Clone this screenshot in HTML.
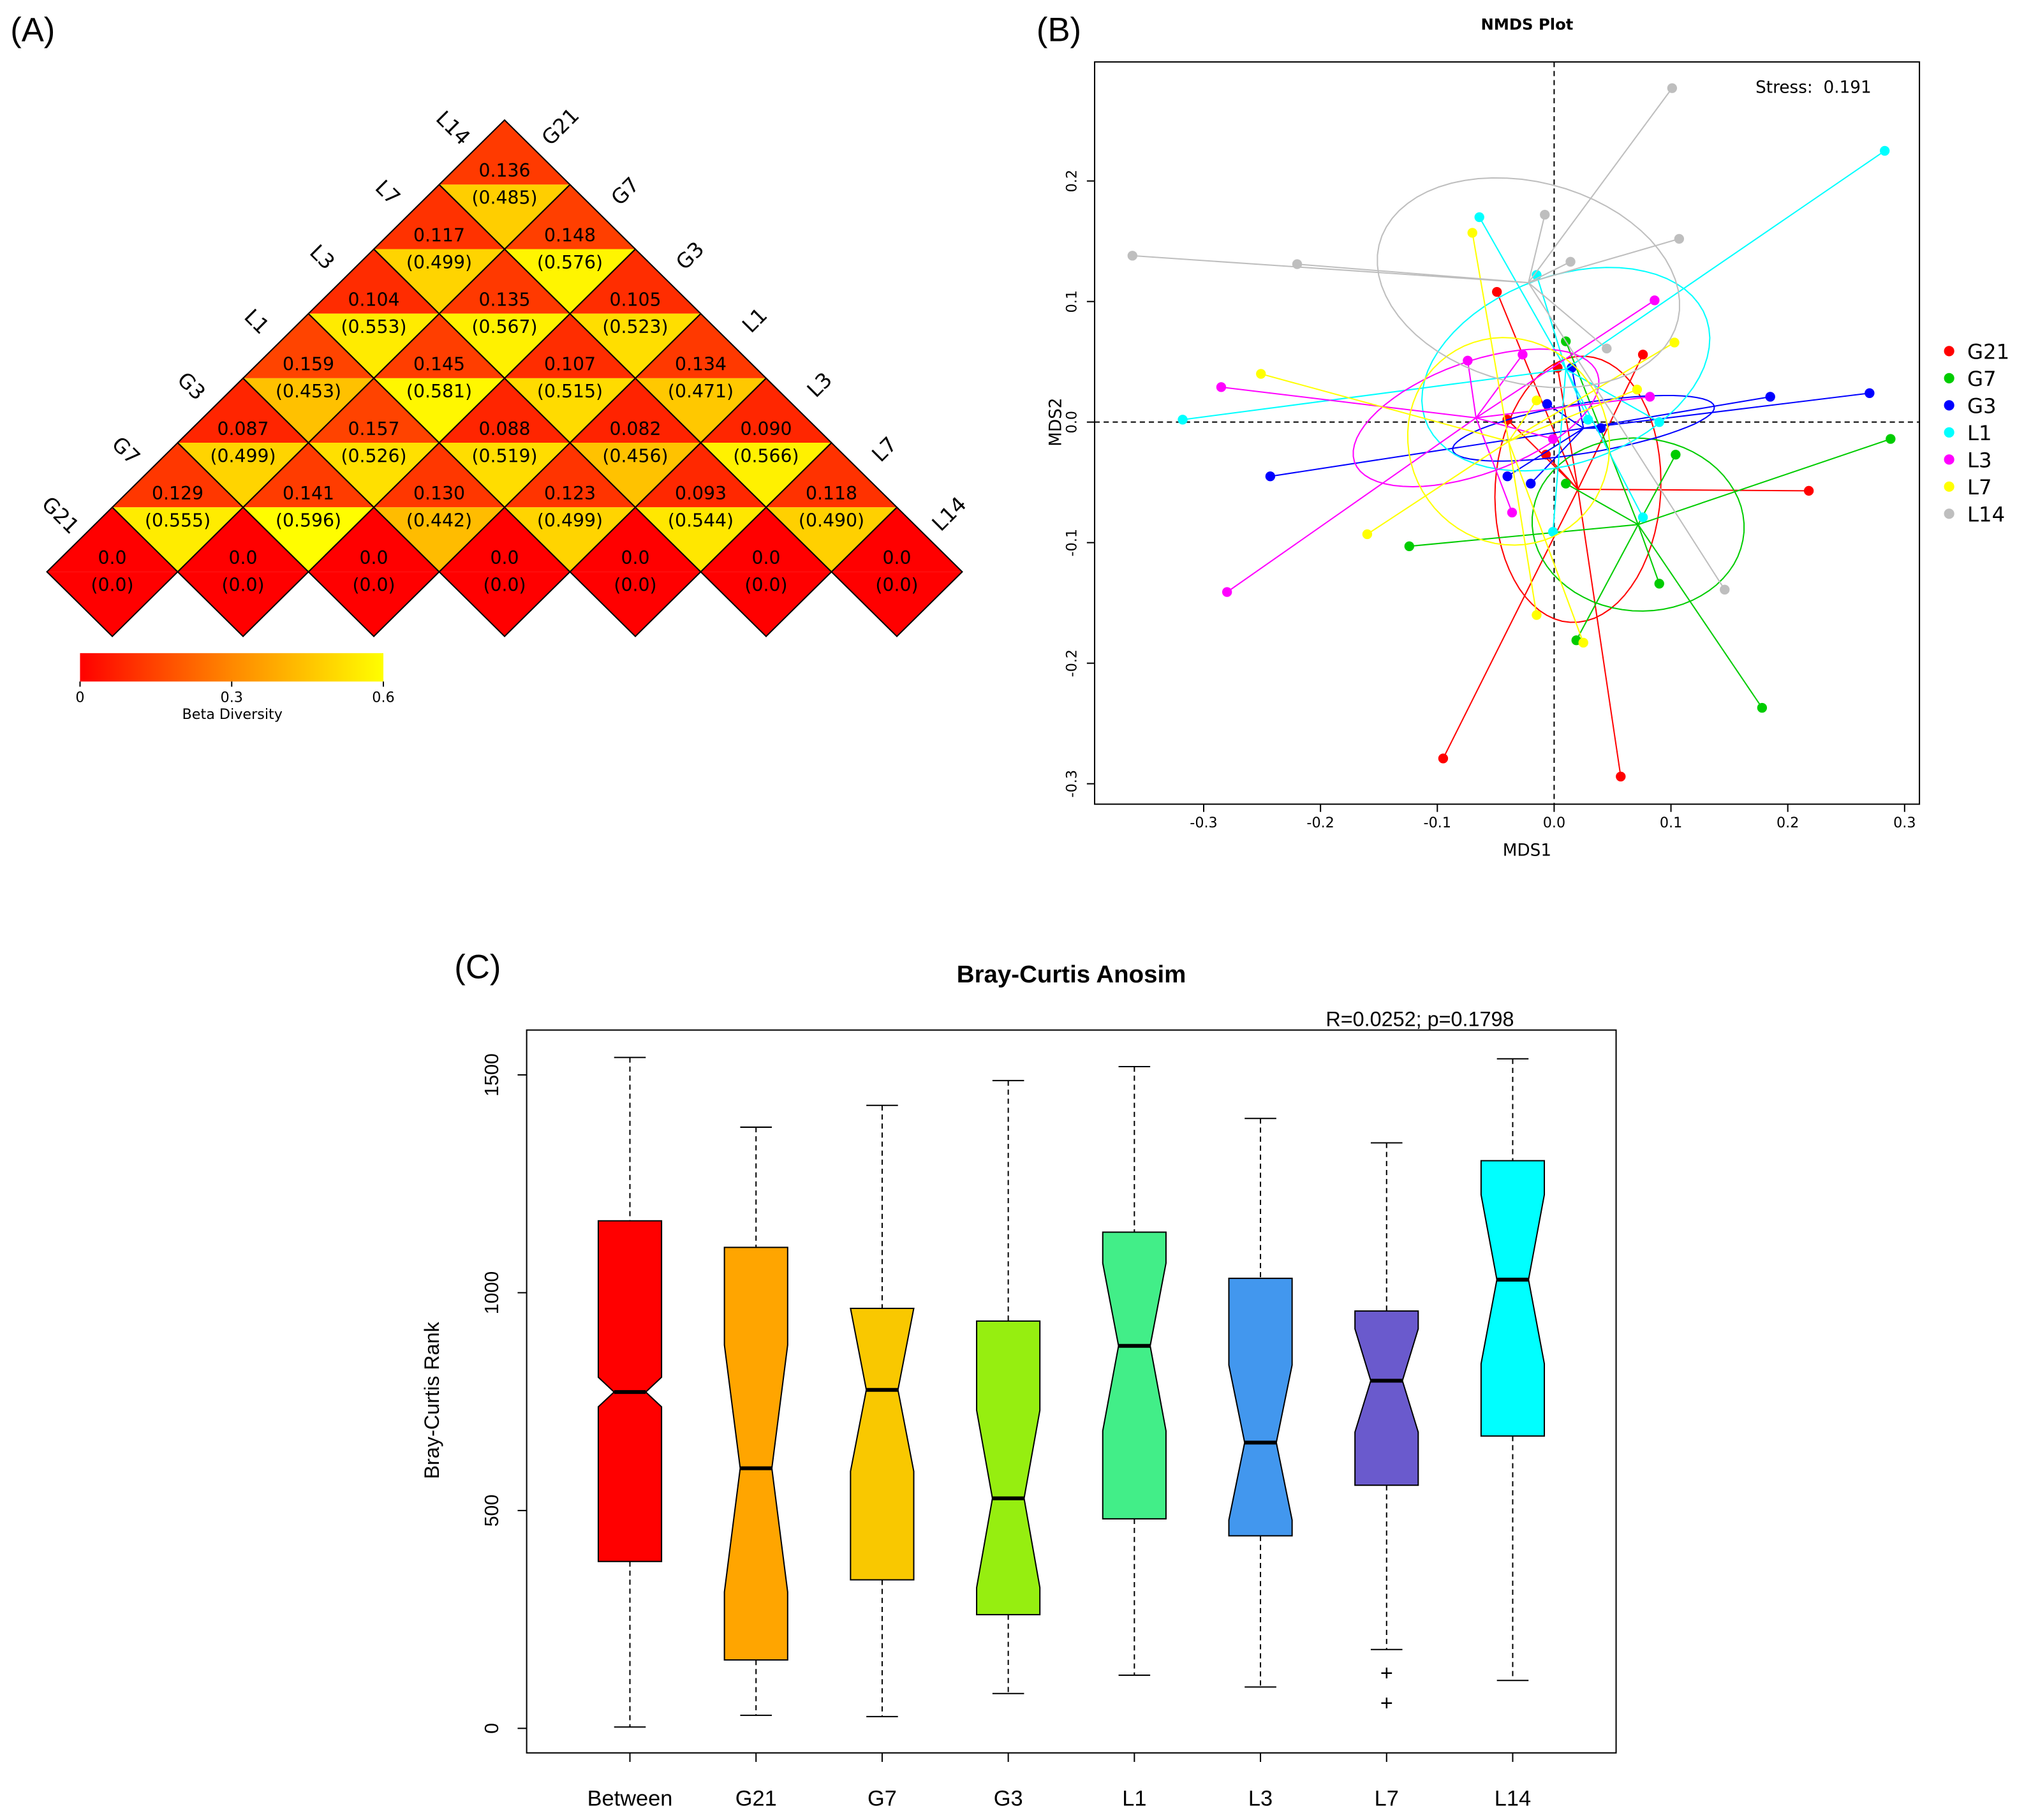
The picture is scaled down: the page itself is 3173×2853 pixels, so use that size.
<!DOCTYPE html>
<html><head><meta charset="utf-8"><style>
html,body{margin:0;padding:0;background:#fff;}
svg{display:block;font-family:"Liberation Sans",sans-serif;}
.dv{font-family:"DejaVu Sans","Liberation Sans",sans-serif;}
</style></head><body>
<svg id="fig" width="3173" height="2853" viewBox="0 0 1568 1410" preserveAspectRatio="none" xmlns="http://www.w3.org/2000/svg">
<defs><linearGradient id="cbar" x1="0" x2="1" y1="0" y2="0"><stop offset="0" stop-color="#ff0000"/><stop offset="0.5" stop-color="#ff8800"/><stop offset="1" stop-color="#ffff00"/></linearGradient></defs>
<g id="pa" class="dv">
<text x="8" y="32" font-size="26" font-family="Liberation Sans, sans-serif">(A)</text>
</g>
<g id="pb" class="dv">
<text x="803" y="32" font-size="26" font-family="Liberation Sans, sans-serif">(B)</text>
<text x="1183" y="23" font-size="12" font-weight="bold" text-anchor="middle">NMDS Plot</text>
<rect x="848" y="48" width="639" height="575" fill="none" stroke="#000" stroke-width="1"/>
<text x="1360" y="72" font-size="13" xml:space="preserve">Stress:  0.191</text>
<text x="1183" y="663" font-size="13" text-anchor="middle">MDS1</text>
<text x="0" y="0" font-size="13" text-anchor="middle" transform="translate(822,327) rotate(-90)">MDS2</text>
</g>
<g id="pc">
<text x="352" y="758" font-size="26">(C)</text>
<text x="830" y="761" font-size="19" font-weight="bold" text-anchor="middle">Bray-Curtis Anosim</text>
<text x="1100" y="795" font-size="16" text-anchor="middle">R=0.0252; p=0.1798</text>
<rect x="408" y="798" width="844" height="560" fill="none" stroke="#000" stroke-width="1"/>
<text x="0" y="0" font-size="16" text-anchor="middle" transform="translate(340,1085) rotate(-90)">Bray-Curtis Rank</text>
</g>
</svg>
<script>
// ---------- Panel A data ----------
const labelsA = ["G21","G7","G3","L1","L3","L7","L14"];
const distRows = [
 [0,0,0,0,0,0,0],
 [0.129,0.141,0.130,0.123,0.093,0.118],
 [0.087,0.157,0.088,0.082,0.090],
 [0.159,0.145,0.107,0.134],
 [0.104,0.135,0.105],
 [0.117,0.148],
 [0.136]
];
const pRows = [
 [0,0,0,0,0,0,0],
 [0.555,0.596,0.442,0.499,0.544,0.490],
 [0.499,0.526,0.519,0.456,0.566],
 [0.453,0.581,0.515,0.471],
 [0.553,0.567,0.523],
 [0.499,0.576],
 [0.485]
];
// ---------- Panel B data ----------
const groupsB = ["G21","G7","G3","L1","L3","L7","L14"];
const groupColors = ["#ff0000","#00cc00","#0000ff","#00ffff","#ff00ff","#ffff00","#bebebe"];
const mds1 = [
 [-0.095,0.057,0.218,0.076,-0.049,0.003,-0.007,-0.040],
 [0.288,0.178,0.090,0.104,0.010,-0.124,0.019,0.010],
 [-0.243,0.270,0.185,0.015,-0.006,-0.040,-0.020,0.040],
 [0.283,-0.318,-0.064,-0.015,-0.001,0.076,0.090,0.029],
 [-0.285,-0.280,-0.074,-0.027,-0.036,0.082,0.086,-0.001],
 [-0.251,-0.160,-0.070,-0.015,0.025,0.103,0.071,-0.015],
 [-0.361,-0.220,0.101,0.107,-0.008,0.014,0.045,0.146]
];
const mds2 = [
 [-0.279,-0.294,-0.057,0.056,0.108,0.045,-0.027,0.002],
 [-0.014,-0.237,-0.134,-0.027,-0.051,-0.103,-0.181,0.067],
 [-0.045,0.024,0.021,0.045,0.015,-0.045,-0.051,-0.005],
 [0.225,0.002,0.170,0.122,-0.091,-0.079,0.000,0.002],
 [0.029,-0.141,0.051,0.056,-0.075,0.021,0.101,-0.014],
 [0.040,-0.093,0.157,-0.160,-0.183,0.066,0.027,0.018],
 [0.138,0.131,0.277,0.152,0.172,0.133,0.061,-0.139]
];
const xTicksB = [-0.3,-0.2,-0.1,0.0,0.1,0.2,0.3];
const yTicksB = [-0.3,-0.2,-0.1,0.0,0.1,0.2];
// ---------- Panel C data ----------
const boxCats = ["Between","G21","G7","G3","L1","L3","L7","L14"];
const boxColors = ["#ff0000","#ffa500","#f9c800","#96ee10","#42ee88","#4297ee","#6a5acd","#00ffff"];
const whiskLo = [3,30,27,80,122,95,181,110];
const q1 = [383,157,341,261,481,442,558,671];
const notchLo = [738,313,590,323,683,478,680,837];
const medians = [772,597,777,528,878,656,798,1030];
const notchHi = [806,880,964,730,1068,834,917,1225];
const q3 = [1165,1104,964,935,1139,1033,958,1303];
const whiskHi = [1540,1380,1430,1487,1519,1400,1344,1537];
const outlierCat = [6,6];
const outlierVal = [128,59];
const yTicksC = [0,500,1000,1500];

const NS="http://www.w3.org/2000/svg";
function mk(parent,tag,attrs,text){const e=document.createElementNS(NS,tag);for(const k in attrs)e.setAttribute(k,attrs[k]);if(text!==undefined)e.textContent=text;parent.appendChild(e);return e;}

// ===== Panel A =====
const pa=document.getElementById('pa');
function colA(v){const t=Math.max(0,Math.min(1,v/0.6));return `rgb(255,${Math.round(255*t)},0)`;}
const stepX=101.3, hw=50.65, hh=50, x0A=87, y0A=443;
distRows.forEach((row,r)=>{
  row.forEach((d,i)=>{
    const cx=x0A+r*hw+i*stepX, cy=y0A-r*hh;
    const g=mk(pa,'g',{});
    
    
    mk(g,'polygon',{points:`${cx-hw},${cy} ${cx},${cy-hh} ${cx+hw},${cy}`,fill:colA(d)});
    mk(g,'polygon',{points:`${cx-hw},${cy} ${cx},${cy+hh} ${cx+hw},${cy}`,fill:colA(pRows[r][i])});
    mk(g,'polygon',{points:`${cx-hw},${cy} ${cx},${cy-hh} ${cx+hw},${cy} ${cx},${cy+hh}`,fill:'none',stroke:'#000','stroke-width':1});
    const f=r===0?d.toFixed(1):d.toFixed(3), pf=r===0?pRows[r][i].toFixed(1):pRows[r][i].toFixed(3);
    mk(g,'text',{x:cx,y:cy-6,'font-size':14,'text-anchor':'middle'},f);
    mk(g,'text',{x:cx,y:cy+15,'font-size':14,'text-anchor':'middle'},'('+pf+')');
  });
});
labelsA.forEach((l,k)=>{
  const lx=43+k*50.7, ly=403-k*50;
  const t=mk(pa,'text',{x:0,y:0,'font-size':16,'text-anchor':'middle',transform:`translate(${lx},${ly}) rotate(45)`},l);
  
  
  const rx=438+k*50.2, ry=102+k*50;
  const t2=mk(pa,'text',{x:0,y:0,'font-size':16,'text-anchor':'middle',transform:`translate(${rx},${ry}) rotate(-45)`},l);
  
  
});
const cb=mk(pa,'rect',{x:62,y:506,width:235,height:22,fill:'url(#cbar)'});


[0,0.3,0.6].forEach(v=>{const x=62+235*v/0.6;mk(pa,'line',{x1:x,x2:x,y1:528,y2:532,stroke:'#000'});
 const t=mk(pa,'text',{x:x,y:544,'font-size':11,'text-anchor':'middle'},String(v));
 
 });
const cbt=mk(pa,'text',{x:180,y:557,'font-size':11,'text-anchor':'middle'},'Beta Diversity');



// ===== Panel B =====
const pb=document.getElementById('pb');
const sx=v=>1204+905*v, sy=v=>327-934*v;
mk(pb,'line',{x1:sx(0),x2:sx(0),y1:48,y2:623,stroke:'#000','stroke-dasharray':'4,3'});
mk(pb,'line',{x1:848,x2:1487,y1:sy(0),y2:sy(0),stroke:'#000','stroke-dasharray':'4,3'});
xTicksB.forEach(v=>{mk(pb,'line',{x1:sx(v),x2:sx(v),y1:623,y2:629,stroke:'#000'});
 const t=mk(pb,'text',{x:sx(v),y:641,'font-size':11,'text-anchor':'middle'},v.toFixed(1));
 
 });
yTicksB.forEach(v=>{mk(pb,'line',{x1:842,x2:848,y1:sy(v),y2:sy(v),stroke:'#000'});
 const t=mk(pb,'text',{x:0,y:0,'font-size':11,'text-anchor':'middle',transform:`translate(834,${sy(v)}) rotate(-90)`},v.toFixed(1));
 
 });
groupsB.forEach((gname,gi)=>{
  const xs=mds1[gi], ys=mds2[gi], n=xs.length, c=groupColors[gi];
  const mx=xs.reduce((a,b)=>a+b,0)/n, my=ys.reduce((a,b)=>a+b,0)/n;
  let sxx=0,syy=0,sxy=0;for(let i=0;i<n;i++){sxx+=(xs[i]-mx)**2;syy+=(ys[i]-my)**2;sxy+=(xs[i]-mx)*(ys[i]-my);}
  sxx/=n-1;syy/=n-1;sxy/=n-1;
  const tr=(sxx+syy)/2, dd=Math.sqrt(((sxx-syy)/2)**2+sxy*sxy), l1=tr+dd, l2=Math.max(tr-dd,1e-9);
  const th=0.5*Math.atan2(2*sxy,sxx-syy), k=0.73;
  const g=mk(pb,'g',{});
  
  
  let pts=[];for(let a=0;a<=64;a++){const t=a/64*2*Math.PI;const u=k*Math.sqrt(l1)*Math.cos(t),w=k*Math.sqrt(l2)*Math.sin(t);
    pts.push(sx(mx+u*Math.cos(th)-w*Math.sin(th)).toFixed(1)+','+sy(my+u*Math.sin(th)+w*Math.cos(th)).toFixed(1));}
  const el=mk(g,'polyline',{points:pts.join(' '),fill:'none',stroke:c,'stroke-width':1});
  
  
  for(let i=0;i<n;i++){mk(g,'line',{x1:sx(mx),y1:sy(my),x2:sx(xs[i]),y2:sy(ys[i]),stroke:c,'stroke-width':1});}
  for(let i=0;i<n;i++){const p=mk(g,'circle',{cx:sx(xs[i]),cy:sy(ys[i]),r:3.8,fill:c});
    
    }
  const ly=272+gi*21;
  const le=mk(pb,'g',{});
  
  
  mk(le,'circle',{cx:1510,cy:ly,r:4,fill:c});
  mk(le,'text',{x:1524,y:ly+6,'font-size':16},gname);
});

// ===== Panel C =====
const pc=document.getElementById('pc');
const cy_=v=>1339-0.3375*v, cx_=i=>488+i*97.7;
yTicksC.forEach(v=>{mk(pc,'line',{x1:401,x2:408,y1:cy_(v),y2:cy_(v),stroke:'#000'});
 const t=mk(pc,'text',{x:0,y:0,'font-size':15,'text-anchor':'middle',transform:`translate(386,${cy_(v)}) rotate(-90)`},String(v));
 
 });
boxCats.forEach((cat,i)=>{
  const x=cx_(i), h=24.5, m=h*0.5;
  const g=mk(pc,'g',{});
  
  
  mk(g,'line',{x1:x,x2:x,y1:cy_(whiskHi[i]),y2:cy_(q3[i]),stroke:'#000','stroke-dasharray':'4,3'});
  mk(g,'line',{x1:x,x2:x,y1:cy_(q1[i]),y2:cy_(whiskLo[i]),stroke:'#000','stroke-dasharray':'4,3'});
  mk(g,'line',{x1:x-m,x2:x+m,y1:cy_(whiskHi[i]),y2:cy_(whiskHi[i]),stroke:'#000'});
  mk(g,'line',{x1:x-m,x2:x+m,y1:cy_(whiskLo[i]),y2:cy_(whiskLo[i]),stroke:'#000'});
  const P=[[x-h,cy_(q3[i])],[x+h,cy_(q3[i])],[x+h,cy_(notchHi[i])],[x+m,cy_(medians[i])],[x+h,cy_(notchLo[i])],[x+h,cy_(q1[i])],
           [x-h,cy_(q1[i])],[x-h,cy_(notchLo[i])],[x-m,cy_(medians[i])],[x-h,cy_(notchHi[i])]];
  mk(g,'polygon',{points:P.map(p=>p.join(',')).join(' '),fill:boxColors[i],stroke:'#000','stroke-width':1});
  mk(g,'line',{x1:x-m,x2:x+m,y1:cy_(medians[i]),y2:cy_(medians[i]),stroke:'#000','stroke-width':3});
  mk(pc,'line',{x1:x,x2:x,y1:1358,y2:1365,stroke:'#000'});
  const t=mk(pc,'text',{x:x,y:1399,'font-size':17,'text-anchor':'middle'},cat);
  
  
});
outlierCat.forEach((ci,k)=>{const t=mk(pc,'text',{x:cx_(ci),y:cy_(outlierVal[k])+6,'font-size':17,'text-anchor':'middle'},'+');
 
 });
</script>
</body></html>
